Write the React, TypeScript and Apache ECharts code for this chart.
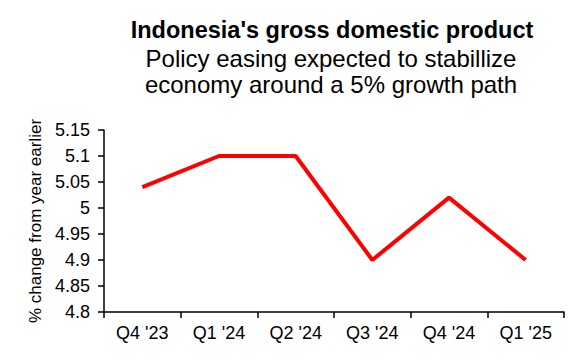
import React, { useEffect, useRef } from "react";
import * as echarts from "echarts";

const categories = ["Q4 '23", "Q1 '24", "Q2 '24", "Q3 '24", "Q4 '24", "Q1 '25"];
const gdpGrowth = [5.04, 5.1, 5.1, 4.9, 5.02, 4.9];
const titleText = "Indonesia's gross domestic product";
const subtitleText = "Policy easing expected to stabillize\neconomy around a 5% growth path";
const yAxisName = "% change from year earlier";

const FONT = "'Liberation Sans', Arial, sans-serif";

export default function App() {
  const ref = useRef<HTMLDivElement>(null);
  useEffect(() => {
    if (!ref.current) return;
    const chart = echarts.init(ref.current, null, { renderer: "svg" });
    chart.setOption({
      animation: false,
      backgroundColor: "#ffffff",
      title: [
        {
          text: titleText,
          left: 327,
          top: 13,
          textAlign: "center",
          textStyle: { fontFamily: FONT, fontSize: 23.5, fontWeight: "bold", color: "#000" },
        },
        {
          text: subtitleText,
          left: 326,
          top: 40,
          textAlign: "center",
          textStyle: { fontFamily: FONT, fontSize: 24, fontWeight: "normal", color: "#000", lineHeight: 26 },
        },
      ],
      grid: { left: 104, right: 16, top: 130, bottom: 48, containLabel: false },
      xAxis: {
        type: "category",
        data: categories,
        boundaryGap: true,
        axisLine: { lineStyle: { color: "#000", width: 1.5 } },
        axisTick: { show: true, length: 6, lineStyle: { color: "#000", width: 1.5 } },
        axisLabel: { fontFamily: FONT, fontSize: 18, color: "#000", margin: 12 },
        splitLine: { show: false },
      },
      yAxis: {
        type: "value",
        min: 4.8,
        max: 5.15,
        interval: 0.05,
        name: yAxisName,
        nameLocation: "middle",
        nameGap: 55,
        nameRotate: 90,
        nameTextStyle: { fontFamily: FONT, fontSize: 17, color: "#000" },
        axisLine: { show: true, lineStyle: { color: "#000", width: 1.5 } },
        axisTick: { show: true, length: 6, lineStyle: { color: "#000", width: 1.5 } },
        axisLabel: {
          fontFamily: FONT,
          fontSize: 18,
          color: "#000",
          margin: 14,
          formatter: (v: number) => String(parseFloat(v.toFixed(2))),
        },
        splitLine: { show: false },
      },
      series: [
        {
          type: "line",
          data: gdpGrowth,
          symbol: "none",
          lineStyle: { color: "#ff0000", width: 4 },
        },
      ],
    });
    return () => chart.dispose();
  }, []);
  return <div ref={ref} style={{ width: 580, height: 360, position: "absolute", left: 0, top: 0 }} />;
}
